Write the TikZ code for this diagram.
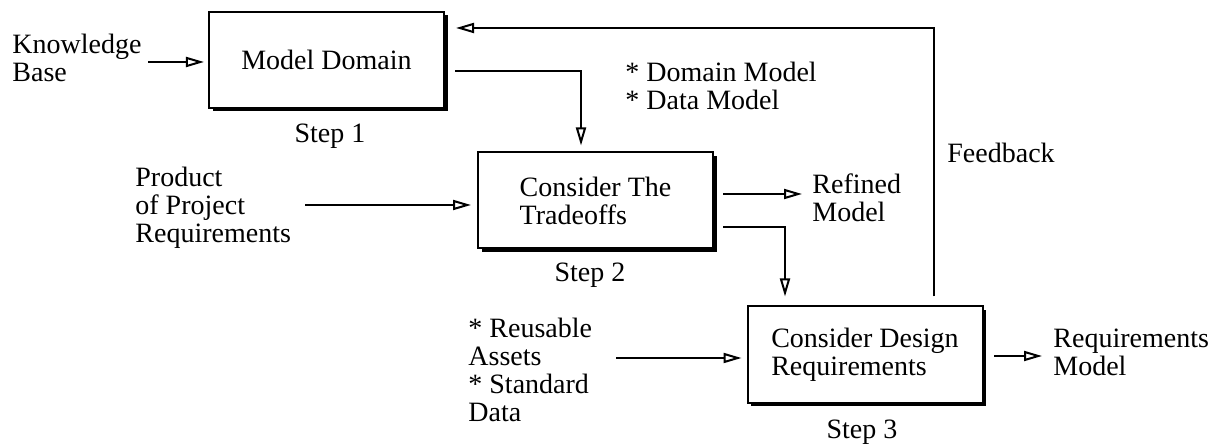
\documentclass[tikz,border=0pt]{standalone}
\usepackage{fontspec}
\setmainfont{Liberation Serif}
\usetikzlibrary{arrows.meta,shadows,calc}
\begin{document}
\begin{tikzpicture}[x=0.5bp,y=-0.5bp,
  font=\fontsize{14bp}{14bp}\selectfont,
  stepbox/.style={draw, line width=1bp, fill=white,
    minimum width=117.5bp, minimum height=48bp, inner sep=0pt, align=left,
    drop shadow={shadow xshift=1.75bp, shadow yshift=-1.75bp, fill=black, opacity=1}},
  lbl/.style={inner sep=0pt, align=left},
  arr/.style={line width=1bp, -{Triangle[open, length=9bp, width=5bp, line width=1bp]}}]
\useasboundingbox (0,0) rectangle (1222,447);

% process steps
\node[stepbox] (box1) at (326.5,60) {Model Domain};
\node[stepbox] (box2) at (595.5,200.5) {Consider The\\Tradeoffs};
\node[stepbox] (box3) at (865,354.5) {Consider Design\\Requirements};

% labels
\node[lbl, anchor=west] (kb) at (12,58) {Knowledge\\Base};
\node[lbl, anchor=base] (s1) at (330,143) {Step 1};
\node[lbl, anchor=west] (dm) at (625,85.5) {* Domain Model\\* Data Model};
\node[lbl, anchor=west] (pp) at (135,207.5) {Product\\of Project\\Requirements};
\node[lbl, anchor=base] (s2) at (590,282) {Step 2};
\node[lbl, anchor=west] (rm) at (812,197.5) {Refined\\Model};
\node[lbl, anchor=base west] (fb) at (947,163) {Feedback};
\node[lbl, anchor=west] (ra) at (468,370) {* Reusable\\Assets\\* Standard\\Data};
\node[lbl, anchor=base] (s3) at (862,438) {Step 3};
\node[lbl, anchor=west] (rq) at (1053,352) {Requirements\\Model};

% connectors
\coordinate (kbout) at (148,62);
\draw[arr, shorten >=2bp] (kbout) -- (kbout -| box1.west);

\coordinate (b1out) at (455,71);
\draw[arr, shorten >=3bp] (b1out) -| ($(box2.north)+(-14.5,0)$);

\coordinate (ppout) at (305,205);
\draw[arr, shorten >=3bp] (ppout) -- (ppout -| box2.west);

\coordinate (b2outa) at (723,194);
\draw[arr, shorten >=5bp] (b2outa) -- (b2outa -| rm.west);

\coordinate (b2outb) at (723,227);
\draw[arr, shorten >=4.5bp] (b2outb) -| ($(box3.north)+(-80,0)$);

\coordinate (raout) at (616,358);
\draw[arr, shorten >=2.5bp] (raout) -- (raout -| box3.west);

\coordinate (b3out) at (994,356);
\draw[arr, shorten >=5.5bp] (b3out) -- (b3out -| rq.west);

% feedback loop back to the first step
\coordinate (fbstart) at ($(box3.north)+(69,-9)$);
\coordinate (fbcorner) at (934,28);
\draw[arr, shorten >=5.5bp] (fbstart) -- (fbcorner) -- (fbcorner -| box1.east);
\end{tikzpicture}
\end{document}
